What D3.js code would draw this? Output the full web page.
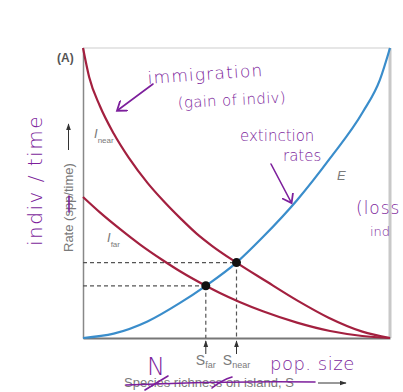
<!DOCTYPE html>
<html><head><meta charset="utf-8">
<script src="https://cdn.jsdelivr.net/npm/d3@7/dist/d3.min.js"></script>
<style>html,body{margin:0;padding:0;background:#fff;}svg{display:block;}</style>
</head><body>
<script>
// ---- data (S and rate both on 0-100 scales) ----
const nearS    = [0, 2, 5.5, 10, 15, 21, 26, 32, 37, 42, 50, 59, 70, 80, 91, 100];
const nearRate = [100, 90, 80, 70.5, 62, 53.5, 47.5, 41, 36, 31.8, 26, 20, 12.8, 7, 2.2, 0];
const farS     = [0, 5.5, 12, 18.6, 26, 31.6, 40, 44.6, 51, 58.6, 69.7, 80.5, 91, 100];
const farRate  = [48.6, 43.3, 37.6, 32.2, 26.8, 23, 18, 15.5, 12.4, 9.2, 5.3, 2.4, 0.7, 0];
const extS     = [0, 10, 21, 31.6, 40, 50, 58.6, 69.7, 80.5, 91.2, 96.7, 100];
const extRate  = [0, 1.5, 5.7, 12.1, 18, 26, 34.8, 47.5, 62, 78, 89, 100];
const eqS      = [40, 50];
const eqRate   = [18, 26];
const eqNames  = ["far", "near"];

const W = 403, H = 392;
const svg = d3.select("body").append("svg").attr("width", W).attr("height", H);
const x = d3.scaleLinear().domain([0, 100]).range([83, 390]);
const y = d3.scaleLinear().domain([0, 100]).range([338, 48]);

const red = "#a3203f", blue = "#3a8dcb", gray = "#7a7a7a", purple = "#7d1f9c";
const font = "'Liberation Sans', Arial, sans-serif";

// frame: top and right light borders
svg.append("line").attr("x1", x(0)).attr("x2", x(100)).attr("y1", y(100)).attr("y2", y(100))
  .attr("stroke", "#e6e6e6").attr("stroke-width", 2);
svg.append("line").attr("x1", x(100)).attr("x2", x(100)).attr("y1", y(100)).attr("y2", y(0))
  .attr("stroke", "#c8c8c8").attr("stroke-width", 3);

// axes (no ticks)
const ax = svg.append("g").attr("transform", `translate(0,${y(0)})`)
  .call(d3.axisBottom(x).tickValues([]).tickSizeOuter(0));
ax.select(".domain").attr("stroke", "#777").attr("stroke-width", 2);
const ay = svg.append("g").attr("transform", `translate(${x(0)},0)`)
  .call(d3.axisLeft(y).tickValues([]).tickSizeOuter(0));
ay.select(".domain").attr("stroke", "#888").attr("stroke-width", 1.5);

// dashed guides
const dash = svg.append("g").attr("stroke", "#555").attr("stroke-width", 1.2).attr("stroke-dasharray", "4,3");
eqS.forEach((s, i) => {
  dash.append("line").attr("x1", x(0)).attr("x2", x(s)).attr("y1", y(eqRate[i])).attr("y2", y(eqRate[i]));
  dash.append("line").attr("x1", x(s)).attr("x2", x(s)).attr("y1", y(eqRate[i])).attr("y2", y(0));
});

// curves
const line = d3.line().x(d => x(d[0])).y(d => y(d[1])).curve(d3.curveMonotoneX);
const curves = [
  [d3.zip(nearS, nearRate), red],
  [d3.zip(farS, farRate), red],
  [d3.zip(extS, extRate), blue]
];
curves.forEach(([pts, c]) => {
  svg.append("path").attr("d", line(pts)).attr("fill", "none").attr("stroke", c).attr("stroke-width", 2.2);
});

// equilibrium points
svg.selectAll("circle.eq").data(eqS).enter().append("circle")
  .attr("cx", d => x(d)).attr("cy", (d, i) => y(eqRate[i])).attr("r", 4.5).attr("fill", "#111");

// arrow markers
const defs = svg.append("defs");
defs.append("marker").attr("id", "ah").attr("viewBox", "0 0 10 10").attr("refX", 9).attr("refY", 5)
  .attr("markerWidth", 7).attr("markerHeight", 7).attr("orient", "auto")
  .append("path").attr("d", "M0,1.5 L10,5 L0,8.5 Z").attr("fill", "#333");
defs.append("marker").attr("id", "ahp").attr("viewBox", "0 0 10 10").attr("refX", 6).attr("refY", 5)
  .attr("markerWidth", 8).attr("markerHeight", 8).attr("orient", "auto")
  .append("path").attr("d", "M0,0 L7,5 L0,10").attr("fill", "none").attr("stroke", purple).attr("stroke-width", 1.4);

// up arrows under the axis and S labels
eqS.forEach((s, i) => {
  svg.append("line").attr("x1", x(s)).attr("x2", x(s)).attr("y1", 354).attr("y2", 341)
    .attr("stroke", "#333").attr("stroke-width", 1).attr("marker-end", "url(#ah)");
  const t = svg.append("text").attr("x", x(s)).attr("y", 365).attr("text-anchor", "middle")
    .attr("font-family", font).attr("fill", gray).attr("font-size", 14);
  t.append("tspan").text("S");
  t.append("tspan").attr("font-size", 9).attr("dy", 3).text(eqNames[i]);
});

// curve labels
function sublabel(px, py, main, sub, fs) {
  const t = svg.append("text").attr("x", px).attr("y", py).attr("font-family", font)
    .attr("fill", gray).attr("font-size", fs).attr("font-style", "italic");
  t.append("tspan").text(main);
  if (sub) t.append("tspan").attr("font-size", 8).attr("dy", 5).attr("font-style", "normal").text(sub);
}
sublabel(94, 138, "I", "near", 13);
sublabel(107, 242, "I", "far", 13);
sublabel(337, 180, "E", null, 13);

// (A)
svg.append("text").attr("x", 57).attr("y", 62).attr("font-family", font).attr("font-weight", "bold")
  .attr("font-size", 12).attr("fill", "#555").text("(A)");

// y-axis title
svg.append("text").attr("transform", "translate(73,252) rotate(-90)").attr("font-family", font)
  .attr("font-size", 13).attr("fill", gray).text("Rate (spp/time)");
svg.append("line").attr("x1", 68.5).attr("x2", 68.5).attr("y1", 150).attr("y2", 124)
  .attr("stroke", "#333").attr("stroke-width", 1).attr("marker-end", "url(#ah)");

// x-axis title
svg.append("text").attr("x", 124).attr("y", 387).attr("font-family", font)
  .attr("font-size", 13).attr("fill", gray).text("Species richness on island, S");
svg.append("line").attr("x1", 318).attr("x2", 346).attr("y1", 383).attr("y2", 383)
  .attr("stroke", "#333").attr("stroke-width", 1).attr("marker-end", "url(#ah)");

// ---- handwritten annotations ----
const hw = "'DejaVu Sans', sans-serif";
function note(px, py, txt, fs, rot, ls) {
  svg.append("text").attr("transform", `translate(${px},${py}) rotate(${rot || 0})`)
    .attr("font-family", hw).attr("font-size", fs).attr("fill", purple).attr("font-weight", 200)
    .attr("letter-spacing", ls || 0).text(txt);
}
note(148, 84, "immigration", 17, -4, 1.2);
note(178, 108, "(gain of indiv)", 15, -3, 0.3);
note(240, 141, "extinction", 15, 0, 0);
note(283, 161, "rates", 15, 0, 0);
note(356, 214, "(loss", 17, 0, 1);
note(370, 236, "ind", 13, 0, 0);
note(42, 246, "indiv / time", 20, -90, 1.5);
note(147, 375, "N", 24, 0);
note(270, 370, "pop. size", 18, 0, 0.5);

const pen = svg.append("g").attr("stroke", purple).attr("stroke-width", 1.6).attr("fill", "none").attr("stroke-linecap", "round");
pen.append("path").attr("d", "M153,84 L118,110").attr("marker-end", "url(#ahp)");
pen.append("path").attr("d", "M271,164 Q282,185 291,202").attr("marker-end", "url(#ahp)");
pen.append("path").attr("d", "M126,385 Q220,381 315,382");
pen.append("path").attr("d", "M145,390 Q158,382 168,376");
pen.append("path").attr("d", "M212,388 Q222,380 232,377");
pen.append("path").attr("d", "M69,196 L69,212");
</script>
</body></html>
